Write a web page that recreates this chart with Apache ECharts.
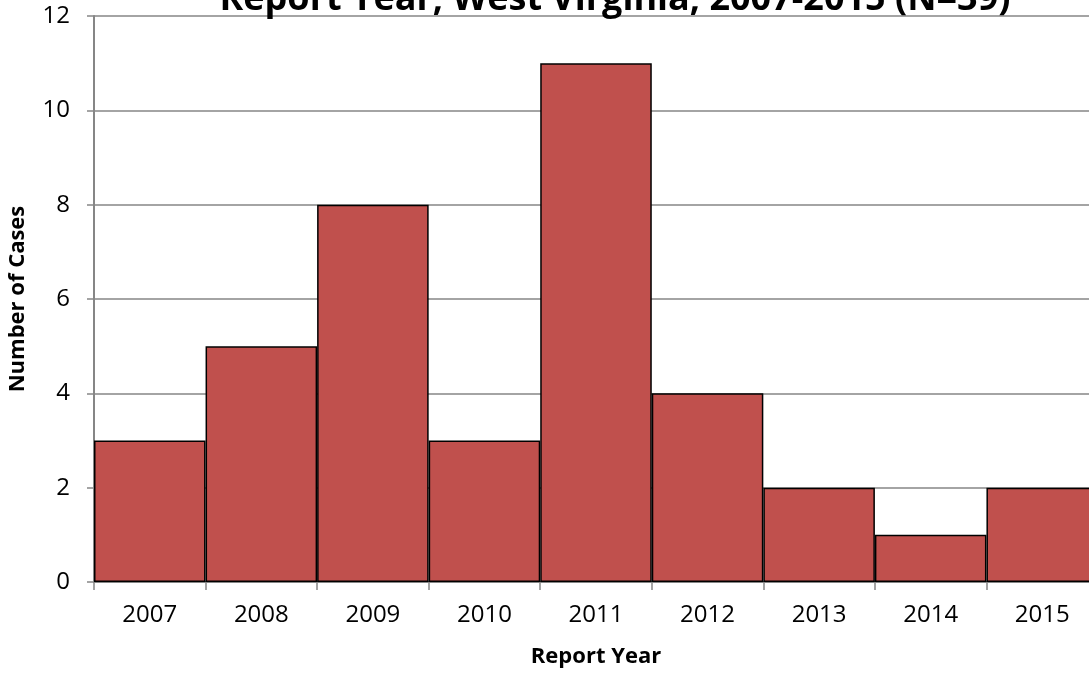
<!DOCTYPE html>
<html><head><meta charset="utf-8">
<script src="https://cdn.jsdelivr.net/npm/echarts@6/dist/echarts.min.js"></script>
<style>html,body{margin:0;padding:0;background:#fff}#c{width:1089px;height:673px}</style>
</head><body><div id="c"></div>
<script>
const categories = ['2007','2008','2009','2010','2011','2012','2013','2014','2015'];
const cases = [3,5,8,3,11,4,2,1,2];
const titleText = 'Report Year, West Virginia, 2007-2015 (N=39)';
const xName = 'Report Year';
const yName = 'Number of Cases';

const chart = echarts.init(document.getElementById('c'));
chart.setOption({
  animation: false,
  title: {
    text: titleText, left: 610, top: -23, textAlign: 'center',
    textStyle: {fontFamily: 'Open Sans', fontWeight: 'bold', fontSize: 36, color: '#000'}
  },
  grid: {left: 94, width: 1004, top: 16, bottom: 91, containLabel: false, outerBoundsMode: 'none'},
  xAxis: {
    type: 'category', data: categories,
    name: xName, nameLocation: 'middle', nameGap: 64,
    nameTextStyle: {fontFamily: 'Open Sans', fontWeight: 'bold', fontSize: 22, color: '#000'},
    axisLine: {lineStyle: {color: '#868686', width: 2}},
    axisTick: {show: true, alignWithLabel: false, length: 8, lineStyle: {color: '#868686', width: 1.5}},
    axisLabel: {fontFamily: 'Open Sans', fontSize: 24, color: '#000', margin: 21}
  },
  yAxis: {
    type: 'value', min: 0, max: 12, interval: 2,
    name: yName, nameLocation: 'middle', nameGap: 65,
    nameTextStyle: {fontFamily: 'Open Sans', fontWeight: 'bold', fontSize: 22, color: '#000'},
    axisLine: {show: true, lineStyle: {color: '#868686', width: 2}},
    axisTick: {show: true, length: 7, lineStyle: {color: '#868686', width: 1.5}},
    axisLabel: {fontFamily: 'Open Sans', fontSize: 24, color: '#000', margin: 24},
    splitLine: {lineStyle: {color: '#868686', width: 1.5}}
  },
  series: [{
    type: 'bar', data: cases, barCategoryGap: '0%',
    itemStyle: {color: '#C0504D', borderColor: '#000', borderWidth: 1.5}
  }]
});
</script></body></html>
